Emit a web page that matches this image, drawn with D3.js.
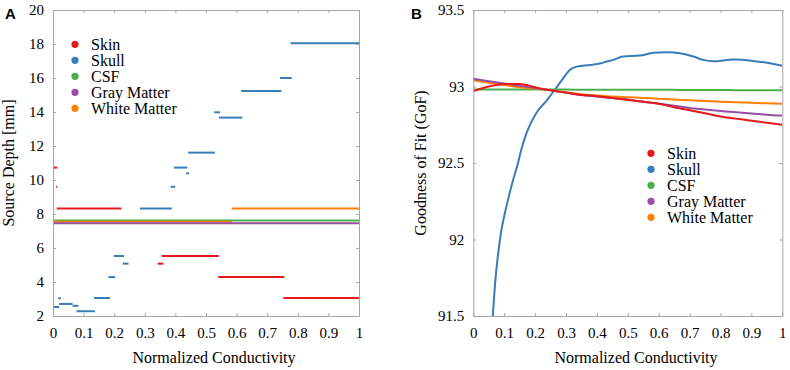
<!DOCTYPE html>
<html>
<head>
<meta charset="utf-8">
<script src="https://cdn.jsdelivr.net/npm/d3@7"></script>
<style>
  body { margin: 0; background: #fff; }
  svg text { font-family: "Liberation Serif", "Times New Roman", Times, "DejaVu Serif", serif; fill: #000; }
  .axis path, .axis line { stroke: #a6a6a6; }
  .axis text { font-size: 15px; }
  svg text.panel-letter { font-family: "Liberation Sans", Arial, sans-serif; font-weight: bold; font-size: 15px; }
</style>
</head>
<body>
<svg id="chart" width="790" height="370"></svg>
<script>
// ---- data ----
const tissues = ["Skin", "Skull", "CSF", "Gray Matter", "White Matter"];
const tissueColors = ["#e41a1c", "#377eb8", "#4daf4a", "#984ea3", "#ff7f00"];

const xTickValues = [0, 0.1, 0.2, 0.3, 0.4, 0.5, 0.6, 0.7, 0.8, 0.9, 1];
const depthTicks = [2, 4, 6, 8, 10, 12, 14, 16, 18, 20];
const gofTicks = [91.5, 92, 92.5, 93, 93.5];

// panel A: source depth steps, [conductivity from, conductivity to, depth mm]
const skinDepth = [[0, 0.014, 10.73], [0.010, 0.014, 9.6], [0.012, 0.224, 8.33], [0.342, 0.361, 5.08],
  [0.355, 0.542, 5.53], [0.540, 0.756, 4.29], [0.753, 1, 3.06]];
const skullDepth = [[0, 0.020, 2.53], [0.017, 0.026, 3.04], [0.020, 0.064, 2.71], [0.064, 0.083, 2.6],
  [0.077, 0.137, 2.28], [0.134, 0.186, 3.06], [0.181, 0.203, 4.29], [0.199, 0.232, 5.53],
  [0.228, 0.247, 5.08], [0.284, 0.388, 8.33], [0.385, 0.399, 9.6], [0.395, 0.439, 10.73],
  [0.435, 0.445, 10.39], [0.442, 0.529, 11.61], [0.527, 0.546, 13.98], [0.542, 0.619, 13.67],
  [0.615, 0.746, 15.24], [0.742, 0.780, 16.0], [0.776, 1, 18.04]];
const csfDepth = [[0, 1, 7.62]];
const grayDepth = [[0, 1, 7.45]];
const whiteDepth = [[0, 0.584, 7.54], [0.584, 1, 8.33]];

// panel B: goodness of fit
const conductivity = [0, 0.05, 0.1, 0.15, 0.2, 0.25, 0.3, 0.35, 0.4, 0.45, 0.5,
  0.55, 0.6, 0.65, 0.7, 0.75, 0.8, 0.85, 0.9, 0.95, 1];
const skinGoF = [92.97, 93.0, 93.017, 93.017, 92.995, 92.975, 92.96, 92.945, 92.937, 92.925, 92.912,
  92.9, 92.887, 92.865, 92.845, 92.825, 92.804, 92.79, 92.776, 92.763, 92.75];
const csfGoF = [92.98, 92.98, 92.98, 92.98, 92.98, 92.98, 92.98, 92.979, 92.979, 92.979, 92.979,
  92.978, 92.978, 92.978, 92.977, 92.977, 92.977, 92.976, 92.976, 92.976, 92.976];
const grayGoF = [93.05, 93.035, 93.02, 93.005, 92.99, 92.975, 92.96, 92.945, 92.935, 92.925, 92.915,
  92.9, 92.888, 92.874, 92.86, 92.85, 92.84, 92.831, 92.824, 92.816, 92.81];
const whiteGoF = [93.04, 93.025, 93.01, 92.995, 92.985, 92.975, 92.962, 92.95, 92.942, 92.935, 92.93,
  92.925, 92.92, 92.915, 92.91, 92.905, 92.9, 92.897, 92.893, 92.89, 92.887];
const skullCond = [0.063, 0.070, 0.080, 0.090, 0.103, 0.116, 0.129, 0.142, 0.157, 0.173, 0.205, 0.238,
  0.264, 0.286, 0.313, 0.335, 0.378, 0.41, 0.432, 0.453, 0.485, 0.539, 0.583, 0.626, 0.669, 0.712,
  0.744, 0.777, 0.841, 0.906, 0.96, 1.0];
const skullGoF = [91.5, 91.7, 91.9, 92.05, 92.18, 92.29, 92.39, 92.48, 92.6, 92.7, 92.83, 92.91,
  92.98, 93.04, 93.11, 93.13, 93.14, 93.15, 93.163, 93.174, 93.196, 93.202, 93.22, 93.224, 93.217,
  93.196, 93.174, 93.165, 93.176, 93.167, 93.152, 93.135];

const svg = d3.select("#chart");

// draws the box frame with inward ticks, labels on left and bottom
function drawFrame(g, x, y, yTicks) {
  const [y0, y1] = y.range();
  const [x0, x1] = x.range();
  g.append("g").attr("class", "axis").attr("transform", `translate(0,${y0})`)
    .call(d3.axisBottom(x).tickValues(xTickValues).tickSize(-3).tickSizeOuter(0).tickPadding(11).tickFormat(d3.format("")));
  g.append("g").attr("class", "axis").attr("transform", `translate(0,${y1})`)
    .call(d3.axisTop(x).tickValues(xTickValues).tickSize(-3).tickSizeOuter(0).tickFormat(""));
  g.append("g").attr("class", "axis").attr("transform", `translate(${x0},0)`)
    .call(d3.axisLeft(y).tickValues(yTicks).tickSize(-3).tickSizeOuter(0).tickPadding(9).tickFormat(d3.format("")));
  g.append("g").attr("class", "axis").attr("transform", `translate(${x1},0)`)
    .call(d3.axisRight(y).tickValues(yTicks).tickSize(-3).tickSizeOuter(0).tickFormat(""));
  g.selectAll(".axis").attr("font-family", null);
  g.selectAll(".axis .domain").attr("stroke", "#a6a6a6");
}

function drawLegend(g, lx, ly) {
  const item = g.append("g").selectAll("g").data(tissues).join("g")
    .attr("transform", (d, i) => `translate(${lx},${ly + i * 16})`);
  item.append("circle").attr("r", 3.6).attr("fill", (d, i) => tissueColors[i]);
  item.append("text").attr("x", 16).attr("y", 5.5).style("font-size", "16px").text(d => d);
}

// ---- panel A ----
const xA = d3.scaleLinear().domain([0, 1]).range([53, 359]);
const yA = d3.scaleLinear().domain([2, 20]).range([316, 10]);
const gA = svg.append("g");

const depthSeries = [
  {name: "Skin", segs: skinDepth, color: tissueColors[0]},
  {name: "Skull", segs: skullDepth, color: tissueColors[1]},
  {name: "CSF", segs: csfDepth, color: tissueColors[2]},
  {name: "White Matter", segs: whiteDepth, color: tissueColors[4]},
  {name: "Gray Matter", segs: grayDepth, color: tissueColors[3]}
];
depthSeries.forEach(s => {
  gA.append("g").selectAll("line").data(s.segs).join("line")
    .attr("x1", d => xA(d[0])).attr("x2", d => xA(d[1]))
    .attr("y1", d => yA(d[2])).attr("y2", d => yA(d[2]))
    .attr("stroke", s.color).attr("stroke-width", 2);
});
drawFrame(gA, xA, yA, depthTicks);
drawLegend(gA, 75, 44.3);

gA.append("text").attr("transform", "translate(14,163) rotate(-90)")
  .attr("text-anchor", "middle").style("font-size", "16px").text("Source Depth [mm]");
gA.append("text").attr("x", 214).attr("y", 363)
  .attr("text-anchor", "middle").style("font-size", "16px").text("Normalized Conductivity");
gA.append("text").attr("class", "panel-letter").attr("x", 5).attr("y", 18.5).text("A");

// ---- panel B ----
const xB = d3.scaleLinear().domain([0, 1]).range([473.3, 782.3]);
const yB = d3.scaleLinear().domain([91.5, 93.5]).range([316, 10]);
const gB = svg.append("g");

gB.append("clipPath").attr("id", "clipB").append("rect")
  .attr("x", 473.3).attr("y", 10).attr("width", 309).attr("height", 306);

const line = d3.line().x(d => xB(d[0])).y(d => yB(d[1])).curve(d3.curveMonotoneX);
const gofSeries = [
  {pts: d3.zip(skullCond, skullGoF), color: tissueColors[1]},
  {pts: d3.zip(conductivity, csfGoF), color: tissueColors[2]},
  {pts: d3.zip(conductivity, whiteGoF), color: tissueColors[4]},
  {pts: d3.zip(conductivity, grayGoF), color: tissueColors[3]},
  {pts: d3.zip(conductivity, skinGoF), color: tissueColors[0]}
];
const curves = gB.append("g").attr("clip-path", "url(#clipB)");
gofSeries.forEach(s => {
  curves.append("path").attr("d", line(s.pts))
    .attr("fill", "none").attr("stroke", s.color).attr("stroke-width", 2);
});
drawFrame(gB, xB, yB, gofTicks);
drawLegend(gB, 651, 153.3);

gB.append("text").attr("transform", "translate(426,163) rotate(-90)")
  .attr("text-anchor", "middle").style("font-size", "16px").text("Goodness of Fit (GoF)");
gB.append("text").attr("x", 636).attr("y", 363)
  .attr("text-anchor", "middle").style("font-size", "16px").text("Normalized Conductivity");
gB.append("text").attr("class", "panel-letter").attr("x", 411).attr("y", 18.5).text("B");
</script>
</body>
</html>
